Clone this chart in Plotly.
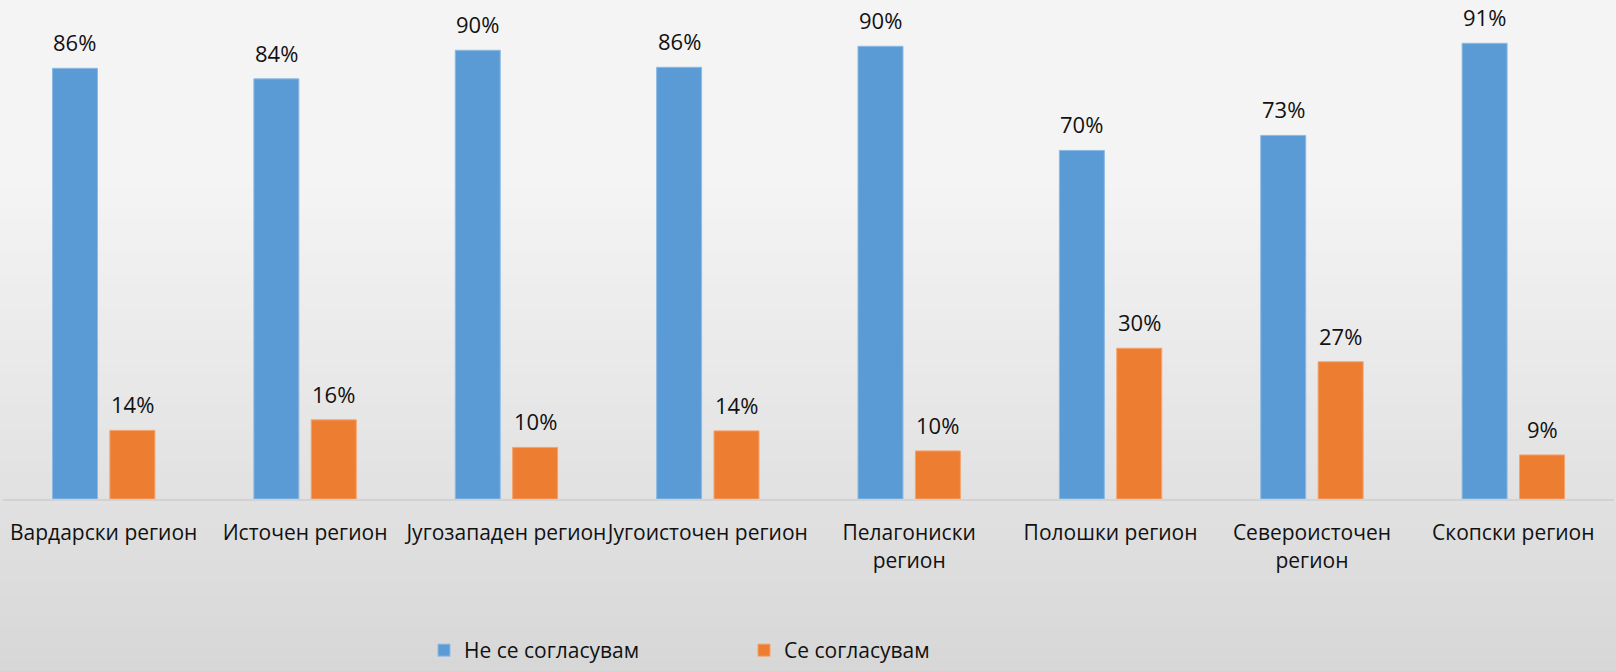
import plotly.graph_objects as go

regions = ["Вардарски регион", "Источен регион", "Југозападен регион", "Југоисточен регион",
           "Пелагониски<br>регион", "Полошки регион", "Североисточен<br>регион", "Скопски регион"]
disagree = [86.0, 83.9, 89.6, 86.2, 90.4, 69.6, 72.6, 91.0]
agree = [13.7, 15.8, 10.3, 13.6, 9.6, 30.1, 27.4, 8.8]
series_names = ["Не се согласувам", "Се согласувам"]
colors = ["#5B9BD5", "#ED7D31"]
edge_colors = ["#8DBAE3", "#F3A36E"]

FONT = "Open Sans"
W, H = 1616, 671
ML, MR, MT, MB = 3, 2, 0, 172

fig = go.Figure()
for name, vals, c, ec in zip(series_names, [disagree, agree], colors, edge_colors):
    fig.add_trace(go.Bar(x=regions, y=vals, name=name,
                         marker=dict(color=c, line=dict(color=ec, width=1))))

# data labels
plot_w = W - ML - MR
cat_w = plot_w / len(regions)
off = cat_w * 0.1425
for vals, sh in [(disagree, -off), (agree, off)]:
    for r, v in zip(regions, vals):
        fig.add_annotation(x=r, y=v, xref="x", yref="y", text=f"{int(v + 0.5)}%",
                           showarrow=False, xshift=sh, yshift=26, yanchor="middle",
                           font=dict(family=FONT, size=22, color="#111111"))

# background gradient (paper-level styling), kept strictly inside the page
shapes = []
n = 61
top_flat = 180
ph = H - MT - MB
for i in range(n):
    y0 = i * H / n
    y1 = (i + 1) * H / n
    ym = (y0 + y1) / 2
    if ym <= top_flat:
        g = 244
    else:
        g = 244 - (ym - top_flat) / (H - top_flat) * 29
    g = int(round(g))
    y0e = max(0.0, y0 - 0.6)
    y1e = min(float(H), y1 + 0.6)
    p0 = (H - MB - y1e) / ph
    p1 = (H - MB - y0e) / ph
    shapes.append(dict(type="rect", xref="paper", yref="paper",
                       x0=-ML / plot_w, x1=1 + MR / plot_w,
                       y0=p0, y1=p1, layer="below",
                       line=dict(width=0), fillcolor=f"rgb({g},{g},{g})"))

fig.update_layout(
    width=W, height=H,
    margin=dict(l=ML, r=MR, t=MT, b=MB),
    paper_bgcolor="#e6e6e6", plot_bgcolor="rgba(0,0,0,0)",
    barmode="group", bargap=0.43, bargroupgap=0.216,
    shapes=shapes,
    font=dict(family=FONT, size=21, color="#111111"),
    showlegend=True,
    legend=dict(orientation="h", x=(424 - ML) / plot_w, xanchor="left",
                y=(H - MB - 671) / ph, yanchor="bottom",
                bgcolor="rgba(0,0,0,0)", font=dict(family=FONT, size=21, color="#111111"),
                entrywidth=275, entrywidthmode="pixels", traceorder="normal"),
    xaxis=dict(showline=True, linecolor="#d2d2d2", linewidth=2, ticks="", tickangle=0,
               tickfont=dict(family=FONT, size=21, color="#111111"),
               ticklabelstandoff=14, showgrid=False, zeroline=False, fixedrange=True),
    yaxis=dict(range=[0, 99.64], visible=False, showgrid=False, zeroline=False, fixedrange=True),
)

css_js = (
    "var s=document.createElement('style');"
    "s.textContent='html,body{margin:0;padding:0;overflow:hidden}';"
    "document.head.appendChild(s);"
)
fig.write_html("out.html", config={"displayModeBar": False}, post_script=css_js)
